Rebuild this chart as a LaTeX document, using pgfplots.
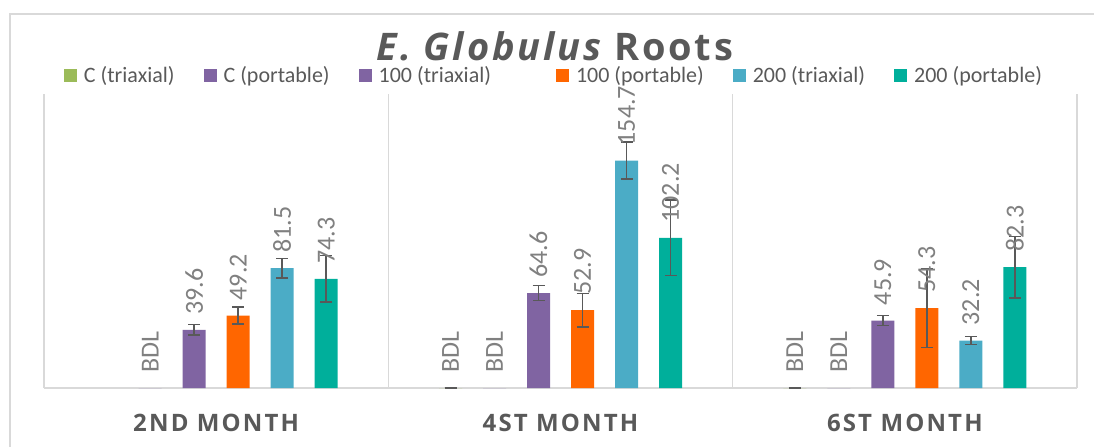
\documentclass[border=0pt]{standalone}
\usepackage{fontspec}
\setmainfont{Carlito}
\newfontfamily\titlefont[LetterSpace=7.5]{Open Sans}
\newfontfamily\catfont[LetterSpace=9]{Open Sans}
\usepackage{pgfplots}
\usepackage{pgfplotstable}
\pgfplotsset{compat=1.18}

\definecolor{cgreen}{HTML}{9BBB59}
\definecolor{cpurple}{HTML}{8064A2}
\definecolor{corange}{HTML}{FF6600}
\definecolor{cblue}{HTML}{4BACC6}
\definecolor{cteal}{HTML}{00AF9B}
\definecolor{txtc}{HTML}{595959}
\definecolor{labc}{HTML}{808080}
\definecolor{gridc}{HTML}{D9D9D9}

% x = month (0,1,2), y = mean, e = error, l = label
\pgfplotstableread{
x y e l
1 0 0 BDL
2 0 0 BDL
}\ctri
\pgfplotstableread{
x y l
0 0 BDL
1 0 BDL
2 0 BDL
}\cpor
\pgfplotstableread{
x y e l
0 39.6 3.6 39.6
1 64.6 5.1 64.6
2 45.9 3.5 45.9
}\hundtri
\pgfplotstableread{
x y e l
0 49.2 5.8 49.2
1 52.9 11.4 52.9
2 54.3 26.8 54.3
}\hundpor
\pgfplotstableread{
x y e l
0 81.5 6.6 81.5
1 154.7 12.5 154.7
2 32.2 2.7 32.2
}\twotri
\pgfplotstableread{
x y e l
0 74.3 15.9 74.3
1 102.2 25.6 102.2
2 82.3 20.9 82.3
}\twopor

\begin{document}
\begin{tikzpicture}
% chart frame and title, in pixel units of the reference
\begin{scope}[x=0.5pt,y=-0.5pt]
  \draw[gridc, line width=0.75pt] (10,460) -- (10,14) -- (1110,14);
  \node[anchor=base, text=txtc, font=\titlefont\bfseries\fontsize{19}{22}\selectfont]
    at (555,60) {\itshape E. Globulus\upshape{} Roots};
\end{scope}

\begin{axis}[
  at={(22pt,-194pt)}, anchor=south west,
  scale only axis, width=516.5pt, height=147pt,
  xmin=-0.5, xmax=2.5, ymin=0, ymax=200,
  clip=false,
  axis y line=none, axis x line*=bottom,
  x axis line style={draw=gridc, line width=0.9pt},
  xtick={0,1,2},
  xticklabels={2ND MONTH,4ST MONTH,6ST MONTH},
  major tick length=0, minor tick length=0,
  minor xtick={-0.5,0.5,1.5,2.5},
  xminorgrids=true,
  minor grid style={gridc, line width=0.75pt},
  xticklabel style={font=\catfont\bfseries\fontsize{12}{14}\selectfont,
    text=txtc, anchor=base, yshift=-21.8pt},
  ybar, bar width=11.5pt,
  nodes near coords, point meta=explicit symbolic,
  every node near coord/.append style={rotate=90, anchor=west,
    font=\fontsize{13}{15}\selectfont, text=labc, inner xsep=7.5pt, inner ysep=0pt},
  error bars/y dir=both, error bars/y explicit,
  error bars/error bar style={txtc, line width=0.75pt},
  error bars/error mark options={rotate=90, mark size=3pt, line width=0.75pt, txtc},
  legend columns=6,
  legend image code/.code={\fill[#1] (0pt,-3.25pt) rectangle (6.5pt,3.25pt);},
  legend style={at={(0.4927,1.063)}, anchor=center, draw=none, fill=none,
    font=\fontsize{11}{13}\selectfont, text=txtc,
    nodes={inner xsep=0pt, inner ysep=1pt},
    /tikz/every odd column/.append style={column sep=3.5pt},
    /tikz/every even column/.append style={column sep=14.5pt}},
  legend cell align=left,
]
\addplot[fill=cgreen, draw=none, bar shift=-55pt]
  table[x=x, y=y, y error=e, meta=l] {\ctri};
\addlegendentry{C (triaxial)}
\addplot[fill=cpurple, draw=none, bar shift=-33pt, error bars/y dir=none]
  table[x=x, y=y, meta=l] {\cpor};
\addlegendentry{C (portable)}
\addplot[fill=cpurple, draw=none, bar shift=-11pt]
  table[x=x, y=y, y error=e, meta=l] {\hundtri};
\addlegendentry{100 (triaxial)\rule{18pt}{0pt}}
\addplot[fill=corange, draw=none, bar shift=11pt]
  table[x=x, y=y, y error=e, meta=l] {\hundpor};
\addlegendentry{100 (portable)}
\addplot[fill=cblue, draw=none, bar shift=33pt]
  table[x=x, y=y, y error=e, meta=l] {\twotri};
\addlegendentry{200 (triaxial)}
\addplot[fill=cteal, draw=none, bar shift=55pt]
  table[x=x, y=y, y error=e, meta=l] {\twopor};
\addlegendentry{200 (portable)}
\end{axis}

\pgfresetboundingbox
\path[use as bounding box] (0,0) rectangle (547pt,-223pt);
\end{tikzpicture}
\end{document}
